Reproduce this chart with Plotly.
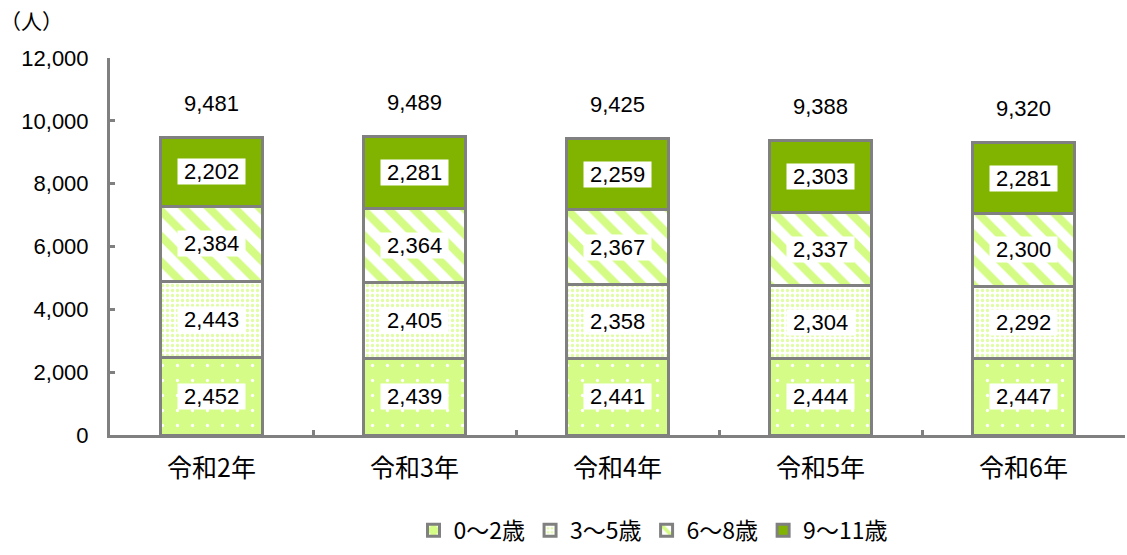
import plotly.graph_objects as go

years = ["令和2年", "令和3年", "令和4年", "令和5年", "令和6年"]
age_0_2 = [2452, 2439, 2441, 2444, 2447]
age_3_5 = [2443, 2405, 2358, 2304, 2292]
age_6_8 = [2384, 2364, 2367, 2337, 2300]
age_9_11 = [2202, 2281, 2259, 2303, 2281]
totals = [9481, 9489, 9425, 9388, 9320]
series_names = ["0～2歳", "3～5歳", "6～8歳", "9～11歳"]
y_ticks = [0, 2000, 4000, 6000, 8000, 10000, 12000]

NUMFONT = "Liberation Sans, Noto Sans CJK JP"
CJKFONT = "Noto Sans CJK JP"
series = [age_0_2, age_3_5, age_6_8, age_9_11]
patterns = [
    dict(shape=".", bgcolor="#d6fc88", fgcolor="#ffffff", size=15, solidity=0.04, fillmode="replace"),
    dict(shape=".", bgcolor="#ffffff", fgcolor="#e0fca4", size=5, solidity=0.35, fillmode="replace"),
    dict(shape="\\", bgcolor="#ffffff", fgcolor="#d4fb84", size=18, solidity=0.45, fillmode="replace"),
    dict(shape="", bgcolor="#80b400", fgcolor="#80b400", fillmode="replace"),
]
colors = ["#d6fc88", "#ffffff", "#ffffff", "#80b400"]

fig = go.Figure()
for name, vals, pat, col in zip(series_names, series, patterns, colors):
    fig.add_trace(go.Bar(
        x=years, y=vals, name=name,
        marker=dict(color=col, pattern=pat, line=dict(color="#808080", width=3)),
        width=0.5,
    ))

annotations = []
for i, yr in enumerate(years):
    base = 0
    for vals in series:
        v = vals[i]
        annotations.append(dict(
            x=yr, y=base + v / 2, text=f" {v:,} ", showarrow=False,
            font=dict(family=NUMFONT, size=22, color="#000000"),
            bgcolor="#ffffff", borderpad=0,
        ))
        base += v
    annotations.append(dict(
        x=yr, y=totals[i], text=f"{totals[i]:,}", showarrow=False,
        yshift=34, font=dict(family=NUMFONT, size=22, color="#000000"),
    ))
annotations.append(dict(
    xref="paper", yref="paper", x=-0.077, y=1.10, text="（人）", showarrow=False,
    xanchor="center", yanchor="middle", font=dict(family=CJKFONT, size=21, color="#000000"),
))

fig.update_layout(
    barmode="stack",
    width=1127, height=555,
    margin=dict(l=110, r=2, t=58, b=120),
    plot_bgcolor="#ffffff", paper_bgcolor="#ffffff",
    font=dict(family=CJKFONT, size=22, color="#000000"),
    annotations=annotations,
    showlegend=True,
    legend=dict(
        orientation="h", x=0.535, xanchor="center", y=-0.31, yanchor="bottom",
        font=dict(family=CJKFONT, size=23), traceorder="normal",
    ),
)
fig.update_xaxes(
    showline=True, linecolor="#808080", linewidth=3,
    ticks="inside", tickson="boundaries", ticklen=5, tickwidth=3, tickcolor="#808080",
    tickfont=dict(family=CJKFONT, size=25), showgrid=False,
    ticklabelstandoff=9,
)
fig.update_yaxes(
    range=[0, 12000], tickvals=y_ticks, ticktext=[f"{t:,}" for t in y_ticks],
    showline=True, linecolor="#808080", linewidth=3,
    ticks="inside", ticklen=5, tickwidth=3, tickcolor="#808080",
    tickfont=dict(family=NUMFONT, size=22), showgrid=False, zeroline=False,
    ticklabelstandoff=14,
)

fig.write_html("out.html")
